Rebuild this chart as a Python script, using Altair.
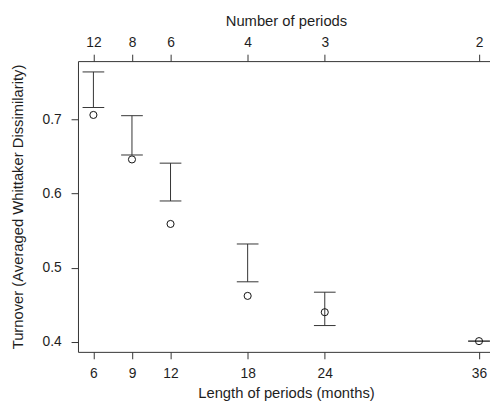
import altair as alt
import pandas as pd

# Data
length_months = [6, 9, 12, 18, 24, 36]
num_periods = [12, 8, 6, 4, 3, 2]
mean_turnover = [0.706, 0.646, 0.559, 0.462, 0.440, 0.401]
ci_lower = [0.716, 0.652, 0.590, 0.481, 0.422, 0.401]
ci_upper = [0.764, 0.705, 0.641, 0.532, 0.467, 0.401]

df = pd.DataFrame({
    "length": length_months,
    "periods": num_periods,
    "mean": mean_turnover,
    "lower": ci_lower,
    "upper": ci_upper,
})

FONT = "Liberation Sans"
LINE = "#333333"
TEXT = "#1e1e1e"

x_scale = alt.Scale(domain=[4.8, 36.855], nice=False, zero=False)
y_scale = alt.Scale(domain=[0.3865, 0.7786], nice=False, zero=False)

label_expr = "".join(
    f"datum.value == {m} ? '{n}' : " for m, n in zip(length_months, num_periods)
) + "''"

common_axis = dict(
    grid=False, tickSize=7, tickColor=LINE, domainColor=LINE, labelColor=TEXT,
    titleColor=TEXT, labelFont=FONT, titleFont=FONT, labelFontSize=14,
    titleFontSize=15, titleFontWeight="normal", labelFlush=False,
    labelOverlap=False, domainWidth=1, tickWidth=1,
)

x_bottom = alt.X(
    "length:Q", scale=x_scale,
    axis=alt.Axis(
        orient="bottom", values=length_months, title="Length of periods (months)",
        labelPadding=8, titleX=211, titleY=46, titleBaseline="alphabetic",
        titleAlign="center", **common_axis,
    ),
)

y_enc = lambda field: alt.Y(
    f"{field}:Q", scale=y_scale,
    axis=alt.Axis(
        values=[0.4, 0.5, 0.6, 0.7], format=".1f",
        title="Turnover (Averaged Whittaker Dissimilarity)",
        labelPadding=10, titleX=-61, titleY=147.5, titleBaseline="middle",
        titleAlign="center", titleAngle=270, **common_axis,
    ),
)

base = alt.Chart(df)

rules = base.mark_rule(color=LINE, strokeWidth=1).encode(
    x=x_bottom, y=y_enc("lower"), y2="upper:Q"
)
lo_caps = base.mark_tick(orient="horizontal", size=22, thickness=1, color=LINE, opacity=1).encode(
    x=x_bottom, y=y_enc("lower")
)
hi_caps = base.mark_tick(orient="horizontal", size=22, thickness=1, color=LINE, opacity=1).encode(
    x=x_bottom, y=y_enc("upper")
)
points = base.mark_point(shape="circle", filled=False, size=52, color="#111111",
                         strokeWidth=1, opacity=1).encode(
    x=x_bottom, y=y_enc("mean")
)

inner = alt.layer(rules, lo_caps, hi_caps, points)

x_top = alt.X(
    "length:Q", scale=x_scale,
    axis=alt.Axis(
        orient="top", values=length_months, labelExpr=label_expr,
        title="Number of periods", labelPadding=5, titleX=211, titleY=-36,
        titleBaseline="alphabetic", titleAlign="center", **common_axis,
    ),
)
top_layer = base.mark_point(opacity=0).encode(x=x_top, y=y_enc("mean"))

chart = alt.layer(inner, top_layer).resolve_axis(x="independent").properties(
    width=418, height=295,
    autosize=alt.AutoSizeParams(type="none"),
    padding={"left": 71, "top": 51, "right": 0, "bottom": 50},
).configure_view(stroke=None)

chart.save("out.html", embed_options={"renderer": "svg", "actions": False})
